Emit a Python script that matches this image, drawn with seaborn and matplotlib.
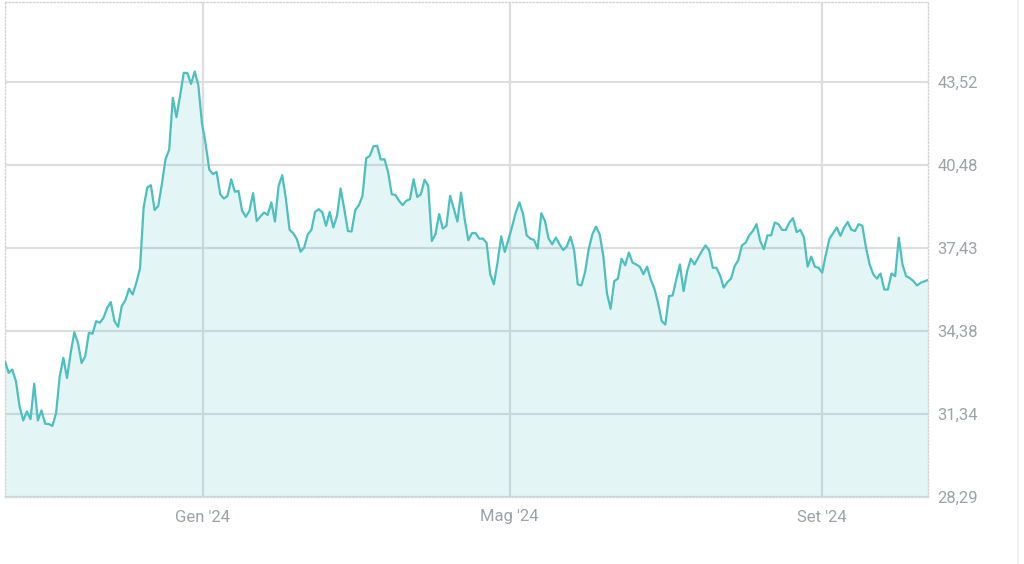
"""
Price history area chart (Oct '23 - Oct '24), Italian date labels.
Saves out.png at 1024x564.
"""
import pandas as pd
import matplotlib.pyplot as plt
from matplotlib.lines import Line2D
import seaborn as sns

# ── Data ───────────────────────────────────────────────────────────────────────
START_DATE = "2023-10-15"
END_DATE   = "2024-10-13"

PRICES = [
    # mid Oct -> end Dec 2023
    33.27, 32.85, 32.97, 32.54, 31.62, 31.10, 31.43, 31.15, 32.45, 31.10,
    31.47, 30.98, 30.97, 30.90, 31.37, 32.72, 33.40, 32.66, 33.58, 34.34,
    33.95, 33.21, 33.46, 34.32, 34.29, 34.75, 34.69, 34.87, 35.24, 35.45,
    34.75, 34.54, 35.30, 35.52, 35.94, 35.73, 36.16, 36.68, 38.92, 39.66,
    39.74, 38.83, 38.98, 39.78, 40.70, 41.04,
    # peak around new year -> Mar 2024
    42.95, 42.24, 43.04, 43.87, 43.86, 43.46, 43.92, 43.41, 42.00, 41.25,
    40.31, 40.15, 40.23, 39.41, 39.25, 39.35, 39.96, 39.50, 39.53, 38.80,
    38.58, 38.80, 39.45, 38.43, 38.59, 38.74, 38.65, 39.11, 38.41, 39.72,
    40.11, 39.23, 38.10, 37.98, 37.76, 37.30, 37.45, 37.94, 38.10, 38.76,
    38.86, 38.74, 38.25, 38.76, 38.19, 38.61,
    # Mar -> early May 2024
    39.62, 38.86, 38.06, 38.04, 38.83, 39.01, 39.35, 40.73, 40.82, 41.17,
    41.19, 40.68, 40.70, 40.23, 39.41, 39.38, 39.17, 39.01, 39.17, 39.23,
    39.96, 39.31, 39.41, 39.94, 39.72, 37.69, 37.94, 38.68, 38.15, 38.25,
    39.35, 38.89, 38.41, 39.47, 38.49, 37.72, 37.98, 37.98, 37.78, 37.78,
    37.63, 36.47, 36.10, 36.90, 37.86, 37.29, 37.76,
    # May -> Jul 2024
    38.22, 38.74, 39.11, 38.68, 37.90, 37.78, 37.73, 37.41, 38.71, 38.43,
    37.78, 37.57, 37.82, 37.57, 37.36, 37.49, 37.85, 37.36, 36.10, 36.06,
    36.55, 37.39, 37.94, 38.22, 37.94, 37.14, 35.77, 35.20, 36.22, 36.31,
    37.04, 36.80, 37.27, 36.90, 36.83, 36.75, 36.47, 36.75, 36.28, 35.94,
    35.42, 34.75, 34.62, 35.67, 35.69, 36.28,
    # Jul -> Sep 2024
    36.83, 35.85, 36.59, 37.04, 36.83, 37.08, 37.32, 37.53, 37.36, 36.71,
    36.71, 36.43, 35.98, 36.18, 36.31, 36.77, 36.99, 37.53, 37.63, 37.90,
    38.06, 38.31, 37.69, 37.39, 37.90, 37.90, 38.37, 38.31, 38.10, 38.10,
    38.37, 38.53, 38.02, 38.10, 37.82, 36.75, 37.12, 36.75, 36.71, 36.53,
    37.20, 37.78, 37.98, 38.19, 37.88, 38.19, 38.39, 38.10, 38.06,
    # Sep -> mid Oct 2024
    38.31, 38.25, 37.45, 36.83, 36.47, 36.31, 36.50, 35.91, 35.91, 36.50,
    36.40, 37.82, 36.83, 36.40, 36.33, 36.22, 36.06, 36.16, 36.21, 36.26,
]

Y_TICKS       = [28.29, 31.34, 34.38, 37.43, 40.48, 43.52]
Y_TICK_LABELS = ["28,29", "31,34", "34,38", "37,43", "40,48", "43,52"]
Y_TOP         = 46.47

X_TICKS       = ["2024-01-01", "2024-05-01", "2024-09-01"]
X_TICK_LABELS = ["Gen '24", "Mag '24", "Set '24"]

# ── Colours ────────────────────────────────────────────────────────────────────
TEAL   = "#4CBFBF"
GRID   = "#DCDDDF"
SPINE  = "#D2D4D6"
LABEL  = "#9EA2A7"
FRAME  = "#ECEDEE"


def _base_style() -> None:
    sns.set_theme(style="white")
    plt.rcParams.update({
        "figure.facecolor": "white",
        "axes.facecolor":   "white",
        "font.size":        12,
    })
    plt.rcParams["font.family"] = ["Roboto", "DejaVu Sans"]


def main() -> None:
    _base_style()

    dates = pd.date_range(START_DATE, END_DATE, periods=len(PRICES))
    df = pd.DataFrame({"date": dates, "price": PRICES})

    fig = plt.figure(figsize=(10.24, 5.64), dpi=100)
    ax = fig.add_axes([5 / 1024, 1 - 497 / 564, 923 / 1024, 495 / 564])

    # light area under the curve, then the line itself
    ax.fill_between(df["date"], df["price"], Y_TICKS[0],
                    color=TEAL, alpha=0.15, linewidth=0, zorder=1)
    sns.lineplot(data=df, x="date", y="price", ax=ax,
                 color=TEAL, linewidth=1.6, zorder=3)

    ax.set_xlim(dates[0], dates[-1])
    ax.set_ylim(Y_TICKS[0], Y_TOP)

    ax.yaxis.tick_right()
    ax.set_yticks(Y_TICKS)
    ax.set_yticklabels(Y_TICK_LABELS)
    ax.set_xticks(pd.to_datetime(X_TICKS))
    ax.set_xticklabels(X_TICK_LABELS)
    ax.tick_params(axis="y", length=0, pad=7, labelsize=12, labelcolor=LABEL)
    ax.tick_params(axis="x", length=0, pad=9, labelsize=12, labelcolor=LABEL)
    ax.set_xlabel("")
    ax.set_ylabel("")

    ax.grid(True, color=GRID, linewidth=1.6)
    ax.set_axisbelow(True)

    for side in ("left", "right", "top", "bottom"):
        ax.spines[side].set_visible(True)
        ax.spines[side].set_color(SPINE)
        ax.spines[side].set_linestyle((0, (1, 1.5)))
        ax.spines[side].set_linewidth(1.0)

    # outer container edge on the far right
    fig.add_artist(Line2D([1018 / 1024, 1018 / 1024], [0, 1],
                          transform=fig.transFigure, color=FRAME, linewidth=1.2))

    fig.savefig("out.png", dpi=100)
    plt.close(fig)


if __name__ == "__main__":
    main()
